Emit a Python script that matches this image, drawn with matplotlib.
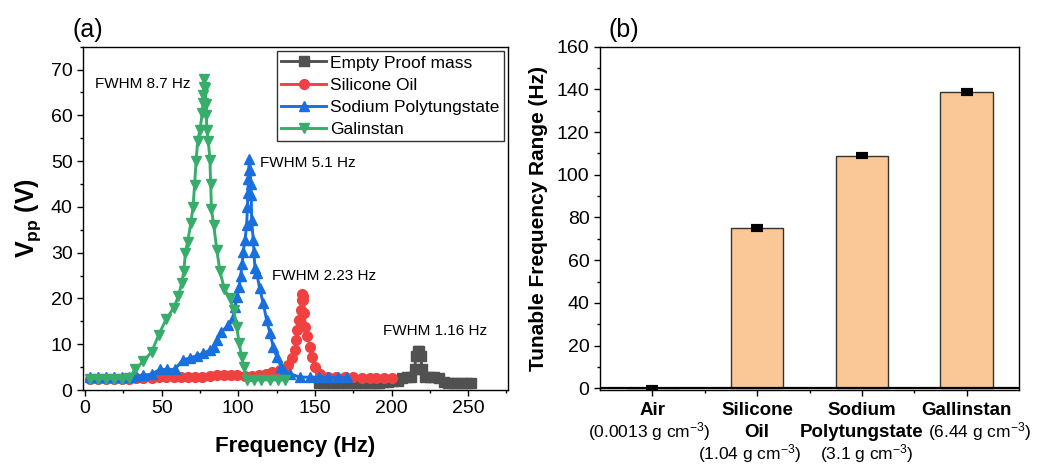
import matplotlib
matplotlib.use('Agg')
import matplotlib.pyplot as plt
from matplotlib.ticker import MultipleLocator, FixedLocator

plt.rcParams['font.family'] = ['Liberation Sans', 'DejaVu Sans']
plt.rcParams['mathtext.fontset'] = 'custom'
plt.rcParams['mathtext.rm'] = 'Liberation Sans'
plt.rcParams['mathtext.bf'] = 'Liberation Sans:bold'
plt.rcParams['mathtext.it'] = 'Liberation Sans:italic'

# ---- (a) resonance curves ----
empty_f = [153, 156, 159, 162, 165, 168, 171, 174, 177, 180, 183, 186, 189, 192, 195, 198,
           201, 204, 207, 210, 213, 215, 216, 217, 218, 219, 220, 222, 225, 228, 231, 234,
           237, 240, 243, 246, 249, 252]
empty_v = [1.5, 1.5, 1.5, 1.5, 1.5, 1.5, 1.5, 1.5, 1.5, 1.5, 1.5, 1.5, 1.5, 1.5, 1.7, 1.8,
           1.9, 1.9, 2.6, 2.8, 2.9, 4.5, 7.5, 8.6, 8.6, 7.5, 4.5, 2.9, 2.9, 2.8, 2.7, 1.7,
           1.6, 1.6, 1.6, 1.6, 1.6, 1.6]

oil_f = [3.5, 8.5, 13.5, 19, 24, 29, 33.5, 38, 43.5, 48, 53, 58, 62.5, 67, 72, 76.5, 81.5,
         86, 90.5, 95, 99.5, 104.5, 109, 113.5, 118, 122, 127, 132.5, 134.8, 137, 137.6,
         138.5, 139.8, 140.7, 141.3, 141.7, 142.2, 142.5, 143.1, 143.8, 144.9, 147, 148.1,
         150.3, 153.5, 158.8, 164, 169.5, 175, 180.5, 186, 190, 195, 200]
oil_v = [2.5, 2.5, 2.5, 2.5, 2.5, 2.5, 2.6, 2.6, 2.7, 2.8, 2.8, 2.8, 2.8, 2.8, 2.8, 2.9, 3.1,
         3.2, 3.2, 3.2, 3.2, 3.1, 3.1, 3.3, 3.5, 4.0, 4.4, 5.5, 6.9, 8.7, 10.9,
         13.1, 15.3, 17.5, 19.7, 21.0, 20.5, 19.7, 16.8, 13.8, 11.7, 9.5, 7.3,
         5.1, 3.6, 2.9, 2.9, 2.8, 2.8, 2.7, 2.7, 2.7, 2.7, 2.7]

spt_f = [3.5, 8.5, 13.5, 19, 24, 29, 33.5, 38, 43.5, 49, 53.5, 58.5, 64, 68.5, 73, 77, 81.5,
         84, 86, 89, 93.5, 96.5, 98, 99.3, 100.6, 101.5, 102.5, 103.3, 104.4, 105.5, 106,
         106.3, 106.6, 106.8, 107.2, 107.8, 108.2, 108.5, 108.7, 109.8, 110.2, 110.9, 112,
         114, 116.3, 118.5, 120.7, 122.8, 125, 128, 130, 133.7, 140, 146.8, 153, 158.7,
         165, 170.7]
spt_v = [2.8, 2.8, 2.8, 2.8, 2.8, 2.8, 3.0, 3.2, 3.5, 4.5, 4.5, 4.5, 6.6, 7.0, 7.5, 8.0, 8.7,
         9.5, 10.9, 12.7, 14.2, 15.7, 18.2, 20.4, 22.6, 24.8, 27.5, 30.2, 32.8, 36.1, 40.0,
         43.0, 46.0, 48.0, 50.5, 48.0, 45.0, 42.5, 37.2, 32.8, 30.2, 26.6, 25.5,
         22.2, 18.9, 15.3, 12.4, 9.5, 7.3, 5.1, 4.2, 3.6, 2.8, 2.8, 2.8, 2.8,
         2.8, 2.8]

gal_f = [3.5, 8.5, 13.5, 19, 24, 29, 32.6, 38, 43.5, 48, 53, 58, 61, 63, 64.5, 65.5, 67, 69,
         70.5, 71.5, 72.5, 73.5, 75, 76.5, 77, 77.3, 77.5, 77.7, 78.5, 79, 79.2, 79.5, 80.5,
         81.5, 82, 82.5, 84, 86, 88, 91, 94.5, 97, 99, 100.6, 102.2, 103.7, 105.5, 110,
         115, 120.5, 126, 130.5]
gal_v = [2.5, 2.5, 2.5, 2.5, 2.5, 2.6, 4.5, 6.3, 8.3, 12.0, 15.5, 18.0, 20.5, 23.3, 26.0,
         30.0, 32.4, 36.4, 40.0, 44.8, 50.0, 54.5, 56.8, 60.5, 62.6, 64.5, 66.3, 68.0, 66.0,
         62.5, 60.0, 56.8, 54.3, 50.3, 45.0, 39.5, 36.0, 30.6, 26.0, 22.0, 20.0, 17.5, 13.8,
         10.2, 7.3, 5.0, 2.2, 2.2, 2.2, 2.2, 2.2, 2.2]

curve_labels = ['Empty Proof mass', 'Silicone Oil', 'Sodium Polytungstate', 'Galinstan']
fwhm_texts = ['FWHM 1.16 Hz', 'FWHM 2.23 Hz', 'FWHM 5.1 Hz', 'FWHM 8.7 Hz']
fwhm_pos = [(194.2, 12.9), (121.8, 25.0), (114.2, 49.5), (6.5, 66.9)]

# ---- (b) tunable range ----
bar_names = ['Air', 'Silicone\nOil', 'Sodium\nPolytungstate', 'Gallinstan']
bar_density = ['0.0013', '1.04', '3.1', '6.44']
range_hz = [0.0, 75.0, 109.0, 138.7]
range_err = [0.8, 0.8, 0.8, 0.8]

colors = ['#515151', '#F14040', '#1A6FDF', '#37AD6B']
markers = ['s', 'o', '^', 'v']

fig = plt.figure(figsize=(10.51, 4.69), dpi=100)
W, H = 1051, 469
ax1 = fig.add_axes([83 / W, (H - 390) / H, 425 / W, 343.3 / H])
ax2 = fig.add_axes([600 / W, (H - 390) / H, 419 / W, 343.3 / H])

series = [(empty_f, empty_v), (oil_f, oil_v), (spt_f, spt_v), (gal_f, gal_v)]
for (fx, fy), c, m, lab in zip(series, colors, markers, curve_labels):
    ax1.plot(fx, fy, color=c, marker=m, markersize=7, linewidth=2.1, label=lab)

for txt, (tx, ty) in zip(fwhm_texts, fwhm_pos):
    ax1.text(tx, ty, txt, fontsize=11, ha='left', va='center')

ax1.set_xlim(-1.3, 276)
ax1.set_ylim(0, 75)
ax1.xaxis.set_major_locator(MultipleLocator(50))
ax1.xaxis.set_minor_locator(MultipleLocator(25))
ax1.yaxis.set_major_locator(MultipleLocator(10))
ax1.yaxis.set_minor_locator(MultipleLocator(5))
ax1.set_xlabel('Frequency (Hz)', fontsize=16, fontweight='bold')
ax1.set_ylabel(r'$\mathbf{V_{pp}}$ (V)', fontsize=18, fontweight='bold')
ax1.xaxis.set_label_coords(0.5, -0.135)
ax1.yaxis.set_label_coords(-0.095, 0.5)
leg = ax1.legend(loc='upper right', bbox_to_anchor=(1.0, 1.0), borderaxespad=0.25,
                 fontsize=12.5, handlelength=2.6, handletextpad=0.2, labelspacing=0.4,
                 borderpad=0.25, fancybox=False, framealpha=1, edgecolor='#333333')
leg.get_frame().set_linewidth(1.0)
fig.text(73 / W, 1 - 30 / H, '(a)', fontsize=18, ha='left', va='center')

# bars
xs = list(range(len(range_hz)))
ax2.bar(xs, range_hz, width=0.5, color='#FAC896', edgecolor='#333333', linewidth=1.0, zorder=2)
ax2.errorbar(xs, range_hz, yerr=range_err, fmt='none', ecolor='black', elinewidth=3,
             capsize=4.5, capthick=3, zorder=3)
ax2.axhline(0, color='black', linewidth=1.6, zorder=4)
ax2.set_xlim(-0.5, 3.5)
ax2.set_ylim(-0.8, 160)
ax2.yaxis.set_major_locator(MultipleLocator(20))
ax2.yaxis.set_minor_locator(MultipleLocator(10))
ax2.xaxis.set_major_locator(FixedLocator(xs))
ax2.xaxis.set_minor_locator(FixedLocator([0.5, 1.5, 2.5]))
ax2.set_xticklabels([])
ax2.set_ylabel('Tunable Frequency Range (Hz)', fontsize=15, fontweight='bold')
ax2.yaxis.set_label_coords(-0.125, 0.5)
fig.text(608 / W, 1 - 30 / H, '(b)', fontsize=18, ha='left', va='center')

trans = ax2.get_xaxis_transform()
line_px = 22.0
dens_shift = [-0.03, -0.07, 0.05, 0.12]
for i, (nm, dens) in enumerate(zip(bar_names, bar_density)):
    nlines = nm.count('\n') + 1
    for k, part in enumerate(nm.split('\n')):
        ax2.text(i, -(20 + k * line_px) / 343.3, part, transform=trans, ha='center',
                 va='center', fontsize=13.5, fontweight='bold')
    ax2.text(i + dens_shift[i], -(20 + nlines * line_px) / 343.3,
             '(' + dens + r' g cm$^{-3}$)',
             transform=trans, ha='center', va='center', fontsize=12.5)

for ax in (ax1, ax2):
    for sp in ax.spines.values():
        sp.set_linewidth(1.0)
    ax.tick_params(which='major', direction='out', length=4, width=1.0, labelsize=14,
                   top=False, right=False)
    ax.tick_params(which='minor', direction='out', length=2.5, width=1.0,
                   top=False, right=False)

fig.savefig('out.png', dpi=100)
